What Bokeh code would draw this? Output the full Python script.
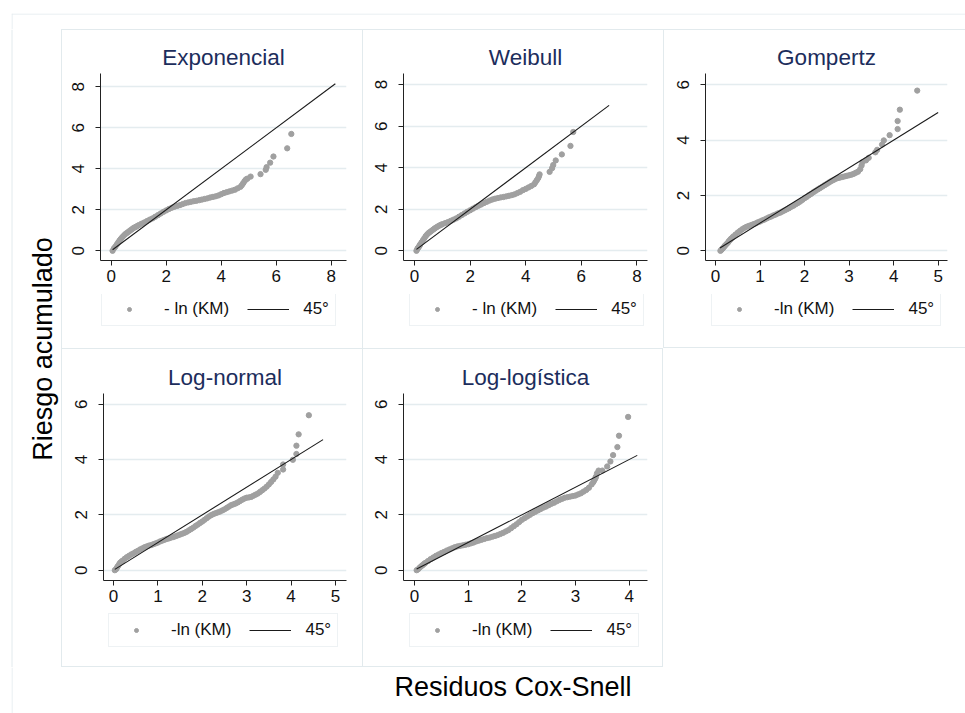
import math
from bokeh.plotting import figure
from bokeh.models import (Range1d, FixedTicker, Legend, LegendItem, Title, Label, Spacer, Span)
from bokeh.layouts import column, row
from bokeh.embed import file_html
from bokeh.resources import INLINE

FONT = "Liberation Sans"
TITLE_C = "#1c2d5c"
MARK_C = "#a0a0a0"
LINE_C = "#1a1a1a"
GRID_C = "#e4ecef"
CELL_C = "#e2eaed"

# ---------------- data ----------------
panel_titles = ["Exponencial", "Weibull", "Gompertz", "Log-normal", "Log-logística"]
marker_labels = ["- ln (KM)", "- ln (KM)", "-ln (KM)", "-ln (KM)", "-ln (KM)"]
line_label = "45°"
x_axis_title = "Residuos Cox-Snell"
y_axis_title = "Riesgo acumulado"

exp_x = [0.05, 0.1, 0.15, 0.2, 0.25, 0.3, 0.35, 0.4, 0.45, 0.5, 0.55, 0.6, 0.65, 0.7, 0.75,
         0.8, 0.85, 0.9, 0.95, 1.0, 1.1, 1.2, 1.3, 1.4, 1.5, 1.6, 1.7, 1.8, 1.9, 2.0, 2.1,
         2.2, 2.3, 2.4, 2.5, 2.6, 2.7, 2.8, 2.9, 3.0, 3.1, 3.2, 3.3, 3.4, 3.5, 3.6, 3.7,
         3.8, 3.9, 4.0, 4.1, 4.2, 4.3, 4.4, 4.5, 4.6, 4.7, 4.75, 4.8, 4.85, 4.9, 4.95,
         5.07, 5.43, 5.62, 5.65, 5.78, 5.9, 6.4, 6.55]
exp_y = [0.0, 0.12, 0.2, 0.3, 0.4, 0.5, 0.58, 0.66, 0.73, 0.8, 0.85, 0.9, 0.95, 1.0, 1.05,
         1.1, 1.14, 1.17, 1.21, 1.25, 1.32, 1.38, 1.45, 1.52, 1.58, 1.66, 1.74, 1.82, 1.9,
         1.97, 2.04, 2.1, 2.15, 2.19, 2.23, 2.28, 2.33, 2.36, 2.39, 2.42, 2.44, 2.47, 2.5,
         2.53, 2.56, 2.6, 2.63, 2.66, 2.7, 2.76, 2.82, 2.86, 2.9, 2.94, 2.98, 3.05, 3.12,
         3.2, 3.3, 3.4, 3.48, 3.52, 3.62, 3.74, 3.95, 4.08, 4.3, 4.6, 5.0, 5.7]
exp_line = [0.05, 8.15]

wei_x = [0.07, 0.1, 0.12, 0.15, 0.18, 0.2, 0.25, 0.3, 0.35, 0.4, 0.45, 0.5, 0.55, 0.6, 0.65,
         0.7, 0.75, 0.8, 0.85, 0.9, 0.95, 1.0, 1.1, 1.2, 1.3, 1.4, 1.5, 1.6, 1.7, 1.8,
         1.9, 2.0, 2.1, 2.2, 2.3, 2.4, 2.5, 2.6, 2.7, 2.8, 2.9, 3.0, 3.1, 3.2, 3.3, 3.4,
         3.5, 3.6, 3.7, 3.8, 3.9, 4.0, 4.1, 4.2, 4.3, 4.35, 4.4, 4.45, 4.48, 4.5, 4.86,
         4.95, 4.99, 5.08, 5.3, 5.61, 5.71]
wei_y = [0.0, 0.08, 0.13, 0.18, 0.24, 0.3, 0.4, 0.5, 0.6, 0.7, 0.78, 0.85, 0.9, 0.95, 1.0,
         1.05, 1.1, 1.14, 1.18, 1.22, 1.25, 1.28, 1.33, 1.38, 1.44, 1.5, 1.56, 1.64, 1.72,
         1.8, 1.88, 1.95, 2.03, 2.1, 2.17, 2.23, 2.3, 2.36, 2.42, 2.47, 2.51, 2.54, 2.57,
         2.59, 2.62, 2.65, 2.68, 2.72, 2.78, 2.84, 2.92, 2.98, 3.05, 3.12, 3.2, 3.3, 3.4,
         3.5, 3.6, 3.68, 3.8, 3.98, 4.13, 4.35, 4.64, 5.05, 5.72]
wei_line = [0.07, 7.0]

gom_x = [0.11, 0.13, 0.15, 0.17, 0.2, 0.22, 0.25, 0.28, 0.3, 0.33, 0.35, 0.38, 0.4, 0.45,
         0.5, 0.55, 0.6, 0.65, 0.7, 0.75, 0.8, 0.85, 0.9, 0.95, 1.0, 1.05, 1.1, 1.15, 1.2,
         1.25, 1.3, 1.35, 1.4, 1.45, 1.5, 1.55, 1.6, 1.65, 1.7, 1.75, 1.8, 1.85, 1.9, 1.95,
         2.0, 2.05, 2.1, 2.15, 2.2, 2.25, 2.3, 2.35, 2.4, 2.45, 2.5, 2.55, 2.6, 2.65, 2.7,
         2.75, 2.8, 2.85, 2.9, 2.95, 3.0, 3.05, 3.1, 3.15, 3.2, 3.25, 3.28, 3.3, 3.38,
         3.44, 3.59, 3.63, 3.74, 3.78, 3.91, 4.09, 4.09, 4.14, 4.53]
gom_y = [0.0, 0.03, 0.07, 0.1, 0.16, 0.2, 0.25, 0.3, 0.35, 0.4, 0.44, 0.48, 0.52, 0.59,
         0.66, 0.72, 0.78, 0.83, 0.87, 0.9, 0.93, 0.96, 0.99, 1.03, 1.06, 1.1, 1.13, 1.17,
         1.21, 1.24, 1.28, 1.31, 1.35, 1.38, 1.42, 1.46, 1.5, 1.54, 1.59, 1.63, 1.68, 1.73,
         1.78, 1.84, 1.9, 1.95, 2.01, 2.06, 2.12, 2.17, 2.22, 2.27, 2.32, 2.37, 2.42, 2.47,
         2.52, 2.56, 2.6, 2.63, 2.65, 2.67, 2.69, 2.71, 2.73, 2.75, 2.78, 2.82, 2.86, 2.95,
         3.08, 3.2, 3.27, 3.36, 3.56, 3.65, 3.84, 3.99, 4.18, 4.4, 4.69, 5.1, 5.79]
gom_line = [0.1, 5.0]

lnorm_x = [0.03, 0.06, 0.08, 0.1, 0.13, 0.15, 0.18, 0.2, 0.25, 0.3, 0.35, 0.4, 0.45, 0.5,
           0.55, 0.6, 0.65, 0.7, 0.75, 0.8, 0.85, 0.9, 0.95, 1.0, 1.05, 1.1, 1.15, 1.2,
           1.25, 1.3, 1.35, 1.4, 1.45, 1.5, 1.55, 1.6, 1.65, 1.7, 1.75, 1.8, 1.85, 1.9,
           1.95, 2.0, 2.05, 2.1, 2.15, 2.2, 2.25, 2.3, 2.35, 2.4, 2.45, 2.5, 2.55, 2.6,
           2.65, 2.7, 2.75, 2.8, 2.85, 2.9, 2.95, 3.0, 3.05, 3.1, 3.15, 3.2, 3.25, 3.3,
           3.35, 3.4, 3.45, 3.5, 3.55, 3.6, 3.65, 3.7, 3.82, 3.82, 4.04, 4.12, 4.12, 4.17,
           4.4]
lnorm_y = [0.0, 0.04, 0.1, 0.15, 0.22, 0.27, 0.31, 0.34, 0.41, 0.47, 0.52, 0.57, 0.61,
           0.66, 0.7, 0.75, 0.79, 0.83, 0.86, 0.89, 0.91, 0.94, 0.97, 1.0, 1.04, 1.07, 1.1,
           1.13, 1.15, 1.18, 1.2, 1.23, 1.26, 1.29, 1.32, 1.35, 1.39, 1.44, 1.49, 1.54,
           1.6, 1.65, 1.71, 1.76, 1.82, 1.88, 1.94, 1.99, 2.03, 2.06, 2.09, 2.12, 2.16,
           2.2, 2.25, 2.3, 2.35, 2.38, 2.41, 2.45, 2.5, 2.55, 2.59, 2.62, 2.63, 2.65, 2.69,
           2.73, 2.77, 2.83, 2.89, 2.95, 3.02, 3.1, 3.19, 3.28, 3.38, 3.52, 3.64, 3.82,
           3.99, 4.2, 4.5, 4.91, 5.6]
lnorm_line = [0.03, 4.72]

llog_x = [0.04, 0.07, 0.1, 0.13, 0.15, 0.18, 0.2, 0.25, 0.3, 0.35, 0.4, 0.45, 0.5, 0.55,
          0.6, 0.65, 0.7, 0.75, 0.8, 0.85, 0.9, 0.95, 1.0, 1.05, 1.1, 1.15, 1.2, 1.25, 1.3,
          1.35, 1.4, 1.45, 1.5, 1.55, 1.6, 1.65, 1.7, 1.75, 1.8, 1.85, 1.9, 1.95, 2.0,
          2.05, 2.1, 2.15, 2.2, 2.25, 2.3, 2.35, 2.4, 2.45, 2.5, 2.55, 2.6, 2.65, 2.7,
          2.75, 2.8, 2.85, 2.9, 2.95, 3.0, 3.05, 3.1, 3.15, 3.2, 3.25, 3.3, 3.33, 3.35,
          3.37, 3.38, 3.4, 3.43, 3.5, 3.59, 3.65, 3.7, 3.78, 3.81, 3.98]
llog_y = [0.0, 0.04, 0.1, 0.15, 0.18, 0.23, 0.26, 0.33, 0.4, 0.46, 0.52, 0.57, 0.62, 0.66,
          0.71, 0.75, 0.79, 0.83, 0.86, 0.88, 0.9, 0.92, 0.94, 0.97, 1.0, 1.04, 1.07, 1.1,
          1.13, 1.16, 1.18, 1.21, 1.24, 1.27, 1.31, 1.35, 1.4, 1.45, 1.52, 1.59, 1.66,
          1.74, 1.82, 1.88, 1.94, 2.0, 2.06, 2.11, 2.16, 2.21, 2.26, 2.3, 2.35, 2.4, 2.44,
          2.49, 2.54, 2.58, 2.62, 2.64, 2.66, 2.68, 2.7, 2.74, 2.78, 2.84, 2.9, 2.98, 3.1,
          3.18, 3.25, 3.32, 3.38, 3.5, 3.6, 3.6, 3.75, 3.93, 4.16, 4.45, 4.86, 5.54]
llog_line = [0.04, 4.15]

xticks_8 = [0, 2, 4, 6, 8]
xticks_5 = [0, 1, 2, 3, 4, 5]
xticks_4 = [0, 1, 2, 3, 4]
yticks_8 = [0, 2, 4, 6, 8]
yticks_6 = [0, 2, 4, 6]


def shadow(top=False, left=False, bottom=False, right=False):
    parts = []
    if top:
        parts.append(f"inset 0 1px 0 0 {CELL_C}")
    if left:
        parts.append(f"inset 1px 0 0 0 {CELL_C}")
    if bottom:
        parts.append(f"inset 0 -1px 0 0 {CELL_C}")
    if right:
        parts.append(f"inset -1px 0 0 0 {CELL_C}")
    return ", ".join(parts)


def blank(w, h, xr, yr, **kw):
    f = figure(width=w, height=h, x_range=Range1d(*xr), y_range=Range1d(*yr),
               output_backend="svg", toolbar_location=None, tools="",
               x_axis_type=None, y_axis_type=None, outline_line_color=None,
               border_fill_color=None, background_fill_color=None, **kw)
    f.xgrid.grid_line_color = None
    f.ygrid.grid_line_color = None
    try:
        f.title = None
    except Exception:
        f.title.visible = False
    return f


def make_panel(title, xs, ys, ends, xr, yr, xt, yt, w, h, bl, br, bt, bb, sh):
    p = figure(width=w, height=h, x_range=Range1d(*xr), y_range=Range1d(*yr),
               output_backend="svg", toolbar_location=None, tools="",
               min_border_left=bl, min_border_right=br, min_border_top=bt,
               min_border_bottom=bb, border_fill_color=None,
               background_fill_color="white", outline_line_color=None,
               styles={"box-shadow": sh})
    p.title = Title(text=title, align="center", text_font=FONT, text_font_size="22.5px",
                    text_font_style="normal", text_color=TITLE_C, standoff=8)
    p.scatter(x=xs, y=ys, size=5.3, fill_color=MARK_C, line_color=MARK_C)
    p.line(x=ends, y=ends, line_color=LINE_C, line_width=1.1)

    p.xaxis.ticker = FixedTicker(ticks=xt)
    p.yaxis.ticker = FixedTicker(ticks=yt)
    for ax in (p.xaxis[0], p.yaxis[0]):
        ax.axis_line_color = "#222222"
        ax.major_tick_line_color = "#222222"
        ax.major_tick_in = 0
        ax.major_tick_out = 5
        ax.minor_tick_out = 0
        ax.minor_tick_in = 0
        ax.major_label_text_font = FONT
        ax.major_label_text_font_size = "17px"
        ax.major_label_text_color = "#111111"
    p.xaxis.major_label_standoff = 4
    p.yaxis.major_label_standoff = 11
    p.yaxis.major_label_orientation = "vertical"
    p.xgrid.grid_line_color = None
    p.ygrid.grid_line_color = GRID_C
    p.ygrid.grid_line_width = 1.5
    return p


def legend_strip(w, h, xs, ys, ends, mlabel, lx, ly, sh):
    # the strip's frame is aligned with the panel frame above it; its view range
    # lies away from the data, so only the legend shows
    f = blank(w, h, (-3, -2), (-3, -2), min_border=0, styles={"box-shadow": sh})
    sc = f.scatter(x=xs, y=ys, size=5, fill_color=MARK_C, line_color=MARK_C)
    ln = f.line(x=ends, y=ends, line_color=LINE_C, line_width=1.1)
    leg = Legend(items=[LegendItem(label=mlabel, renderers=[sc]),
                        LegendItem(label=line_label, renderers=[ln])],
                 orientation="horizontal", location=(lx, ly),
                 border_line_color="#dde6e9", border_line_width=1,
                 background_fill_color="white", padding=6, spacing=18,
                 label_standoff=14, glyph_width=42, glyph_height=10, label_height=19,
                 label_text_font=FONT, label_text_font_size="17px",
                 label_text_color="#111111", margin=0)
    f.add_layout(leg, "center")
    return f


PH = 265   # panel height inside a cell
LH = 54    # legend strip height inside a cell

p1 = make_panel(panel_titles[0], exp_x, exp_y, exp_line, (-0.389, 8.556), (-0.473, 8.649),
                xticks_8, yticks_8, 301, PH, 39, 16, 44, PH - 44 - 187,
                shadow(top=True, left=True))
p2 = make_panel(panel_titles[1], wei_x, wei_y, wei_line, (-0.396, 8.381), (-0.467, 8.536),
                xticks_8, yticks_8, 301, PH, 41, 16, 44, PH - 44 - 187,
                shadow(top=True, left=True))
p3 = make_panel(panel_titles[2], gom_x, gom_y, gom_line, (-0.225, 5.21), (-0.35, 6.408),
                xticks_5, yticks_6, 302, PH, 42, 18, 44, PH - 44 - 187,
                shadow(top=True, left=True))
p4 = make_panel(panel_titles[3], lnorm_x, lnorm_y, lnorm_line, (-0.225, 5.248), (-0.372, 6.386),
                xticks_5, yticks_6, 301, PH, 42, 16, 45, PH - 45 - 187,
                shadow(top=True, left=True))
p5 = make_panel(panel_titles[4], llog_x, llog_y, llog_line, (-0.205, 4.341), (-0.372, 6.386),
                xticks_4, yticks_6, 301, PH, 41, 16, 45, PH - 45 - 187,
                shadow(top=True, left=True, right=True))

l1 = legend_strip(301, LH, exp_x, exp_y, exp_line, marker_labels[0], 1, 22,
                  shadow(left=True))
l2 = legend_strip(301, LH, wei_x, wei_y, wei_line, marker_labels[1], 6, 22,
                  shadow(left=True))
l3 = legend_strip(302, LH, gom_x, gom_y, gom_line, marker_labels[2], 6, 22,
                  shadow(left=True, bottom=True))
l4 = legend_strip(301, LH, lnorm_x, lnorm_y, lnorm_line, marker_labels[3], 5, 20,
                  shadow(left=True, bottom=True))
l5 = legend_strip(301, LH, llog_x, llog_y, llog_line, marker_labels[4], 6, 20,
                  shadow(left=True, bottom=True, right=True))

# top strip: outer frame top edge (its frame starts at x=11)
top = blank(965, 29, (0, 954), (0, 16), min_border_left=11, min_border_top=13,
            min_border_right=0, min_border_bottom=0)
top.add_layout(Span(location=15.5, dimension="width", line_color=CELL_C, line_width=1))
top.add_layout(Span(location=0.5, dimension="height", line_color=CELL_C, line_width=1))

# left strip with the common y-axis title
left = blank(61, 638, (0, 61), (0, 638), min_border=0)
left.add_layout(Span(location=11.5, dimension="height", line_color=CELL_C, line_width=1))
left.add_layout(Label(x=42, y=318.5, text=y_axis_title, angle=math.pi / 2,
                      text_align="center", text_baseline="middle", text_font=FONT,
                      text_font_size="27px", text_color="#000000"))

# bottom strip with the common x-axis title (frame aligned with the top strip: x from 11)
bottom = blank(965, 46, (0, 954), (0, 46), min_border=0)
bottom.add_layout(Span(location=0.5, dimension="height", line_color=CELL_C, line_width=1))
bottom.add_layout(Label(x=501.5, y=27, text=x_axis_title, text_align="center",
                        text_baseline="middle", text_font=FONT, text_font_size="27px",
                        text_color="#000000"))

row1 = row(column(p1, l1, spacing=0), column(p2, l2, spacing=0), column(p3, l3, spacing=0),
           spacing=0)
row2 = row(column(p4, l4, spacing=0), column(p5, l5, spacing=0),
           Spacer(width=302, height=PH + LH), spacing=0)
grid_col = column(row1, row2, spacing=0)
root = column(top, row(left, grid_col, spacing=0), bottom, spacing=0)

open("out.html", "w").write(file_html(root, INLINE))
